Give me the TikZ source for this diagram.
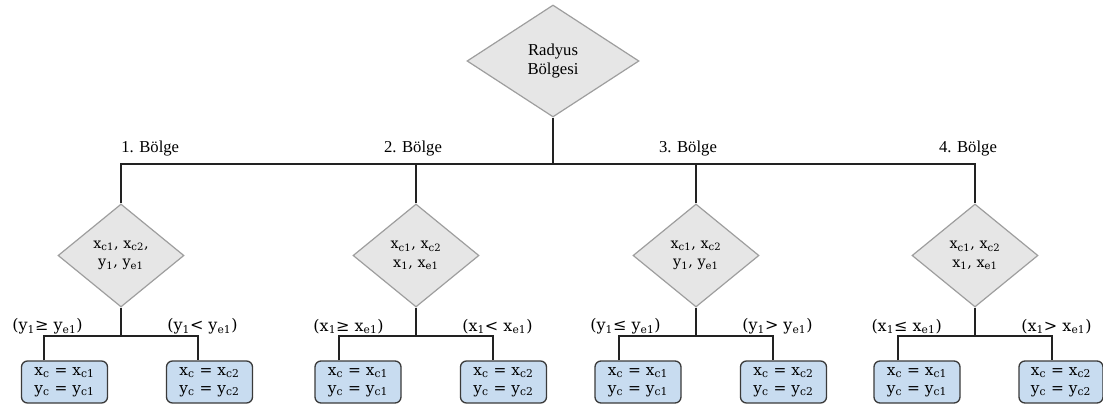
\documentclass[tikz,border=0pt]{standalone}
\usepackage{fontspec}
\setmainfont{Liberation Serif}
\newfontfamily\mf{DejaVu Serif}
\usetikzlibrary{shapes.geometric,calc}
\definecolor{dfill}{HTML}{E6E6E6}
\definecolor{ddraw}{HTML}{9E9E9E}
\definecolor{bfill}{HTML}{C8DCF0}
\definecolor{bdraw}{HTML}{3A3A3A}
\definecolor{ln}{HTML}{222222}
\newcommand{\sbs}[1]{\textsubscript{#1}}
\begin{document}
\begin{tikzpicture}[x=0.75pt,y=-0.75pt,
  topdia/.style={diamond,draw=ddraw,fill=dfill,line width=0.9pt,inner sep=0pt,
    minimum width=129pt,minimum height=84pt,align=center,font=\fontsize{12.5}{14}\selectfont},
  dia/.style={diamond,draw=ddraw,fill=dfill,line width=0.9pt,inner sep=0pt,
    minimum width=94.5pt,minimum height=77.25pt,align=center,font=\mf\fontsize{10.8}{14}\selectfont},
  res/.style={rectangle,rounded corners=4.5pt,draw=bdraw,fill=bfill,line width=1pt,
    minimum width=64.5pt,minimum height=31.5pt,inner sep=0pt,align=left,font=\mf\fontsize{11.5}{13.5}\selectfont},
  cond/.style={inner sep=0pt,font=\mf\fontsize{12}{14}\selectfont},
  reg/.style={inner sep=0pt,font=\fontsize{12.5}{14}\selectfont},
  conn/.style={draw=ln,line width=1.4pt}]
\useasboundingbox (0,0) rectangle (1103,410);

\node[topdia] (top) at (553,61) {Radyus\\Bölgesi};
\coordinate (bar) at (553,164);

\node[dia] (d1) at (121,255.5) {x\sbs{c1}, x\sbs{c2},\\y\sbs{1}, y\sbs{e1}};
\node[dia] (d2) at (416,255.5) {x\sbs{c1}, x\sbs{c2}\\x\sbs{1}, x\sbs{e1}};
\node[dia] (d3) at (696,255.5) {x\sbs{c1}, x\sbs{c2}\\y\sbs{1}, y\sbs{e1}};
\node[dia] (d4) at (975,255.5) {x\sbs{c1}, x\sbs{c2}\\x\sbs{1}, x\sbs{e1}};

\draw[conn] (top.south) -- (bar);
\draw[conn] (d1.north) |- (bar) -| (d4.north);
\draw[conn] (d2.north) -- (d2.north |- bar);
\draw[conn] (d3.north) -- (d3.north |- bar);

\node[reg,anchor=base west] (r1) at (121,152) {1. Bölge};
\node[reg,anchor=base] (r2) at (413,152) {2. Bölge};
\node[reg,anchor=base] (r3) at (688,152) {3. Bölge};
\node[reg,anchor=base] (r4) at (968,152) {4. Bölge};

% result boxes
\node[res] (l1) at (64.5,382) {x\sbs{c} = x\sbs{c1}\\y\sbs{c} = y\sbs{c1}};
\node[res] (q1) at (209.5,382) {x\sbs{c} = x\sbs{c2}\\y\sbs{c} = y\sbs{c2}};
\node[res] (l2) at (358,382) {x\sbs{c} = x\sbs{c1}\\y\sbs{c} = y\sbs{c1}};
\node[res] (q2) at (503.5,382) {x\sbs{c} = x\sbs{c2}\\y\sbs{c} = y\sbs{c2}};
\node[res] (l3) at (638,382) {x\sbs{c} = x\sbs{c1}\\y\sbs{c} = y\sbs{c1}};
\node[res] (q3) at (783.5,382) {x\sbs{c} = x\sbs{c2}\\y\sbs{c} = y\sbs{c2}};
\node[res] (l4) at (917,382) {x\sbs{c} = x\sbs{c1}\\y\sbs{c} = y\sbs{c1}};
\node[res,minimum width=63pt] (q4) at (1061,382) {x\sbs{c} = x\sbs{c2}\\y\sbs{c} = y\sbs{c2}};

\foreach \i in {1,2,3,4}{
  \coordinate (j\i) at ($(d\i.south)+(0,28)$);
  \coordinate (jl\i) at ($(j\i)+(-77,0)$);
  \coordinate (jr\i) at ($(j\i)+(77,0)$);
  \draw[conn] (d\i.south) -- (j\i);
  \draw[conn] (jl\i |- l\i.north) -- (jl\i) -- (jr\i) -- (jr\i |- q\i.north);
}

% condition labels
\node[cond,anchor=east] (c1l) at ($(j1)+(-38,-9)$) {(y\sbs{1}≥ y\sbs{e1})};
\node[cond,anchor=west] (c1r) at ($(j1)+(46,-9)$) {(y\sbs{1}< y\sbs{e1})};
\node[cond,anchor=east] (c2l) at ($(j2)+(-32,-9)$) {(x\sbs{1}≥ x\sbs{e1})};
\node[cond,anchor=west] (c2r) at ($(j2)+(46,-9)$) {(x\sbs{1}< x\sbs{e1})};
\node[cond,anchor=east] (c3l) at ($(j3)+(-35,-9)$) {(y\sbs{1}≤ y\sbs{e1})};
\node[cond,anchor=west] (c3r) at ($(j3)+(46,-9)$) {(y\sbs{1}> y\sbs{e1})};
\node[cond,anchor=east] (c4l) at ($(j4)+(-33,-9)$) {(x\sbs{1}≤ x\sbs{e1})};
\node[cond,anchor=west] (c4r) at ($(j4)+(46,-9)$) {(x\sbs{1}> x\sbs{e1})};
\end{tikzpicture}
\end{document}
